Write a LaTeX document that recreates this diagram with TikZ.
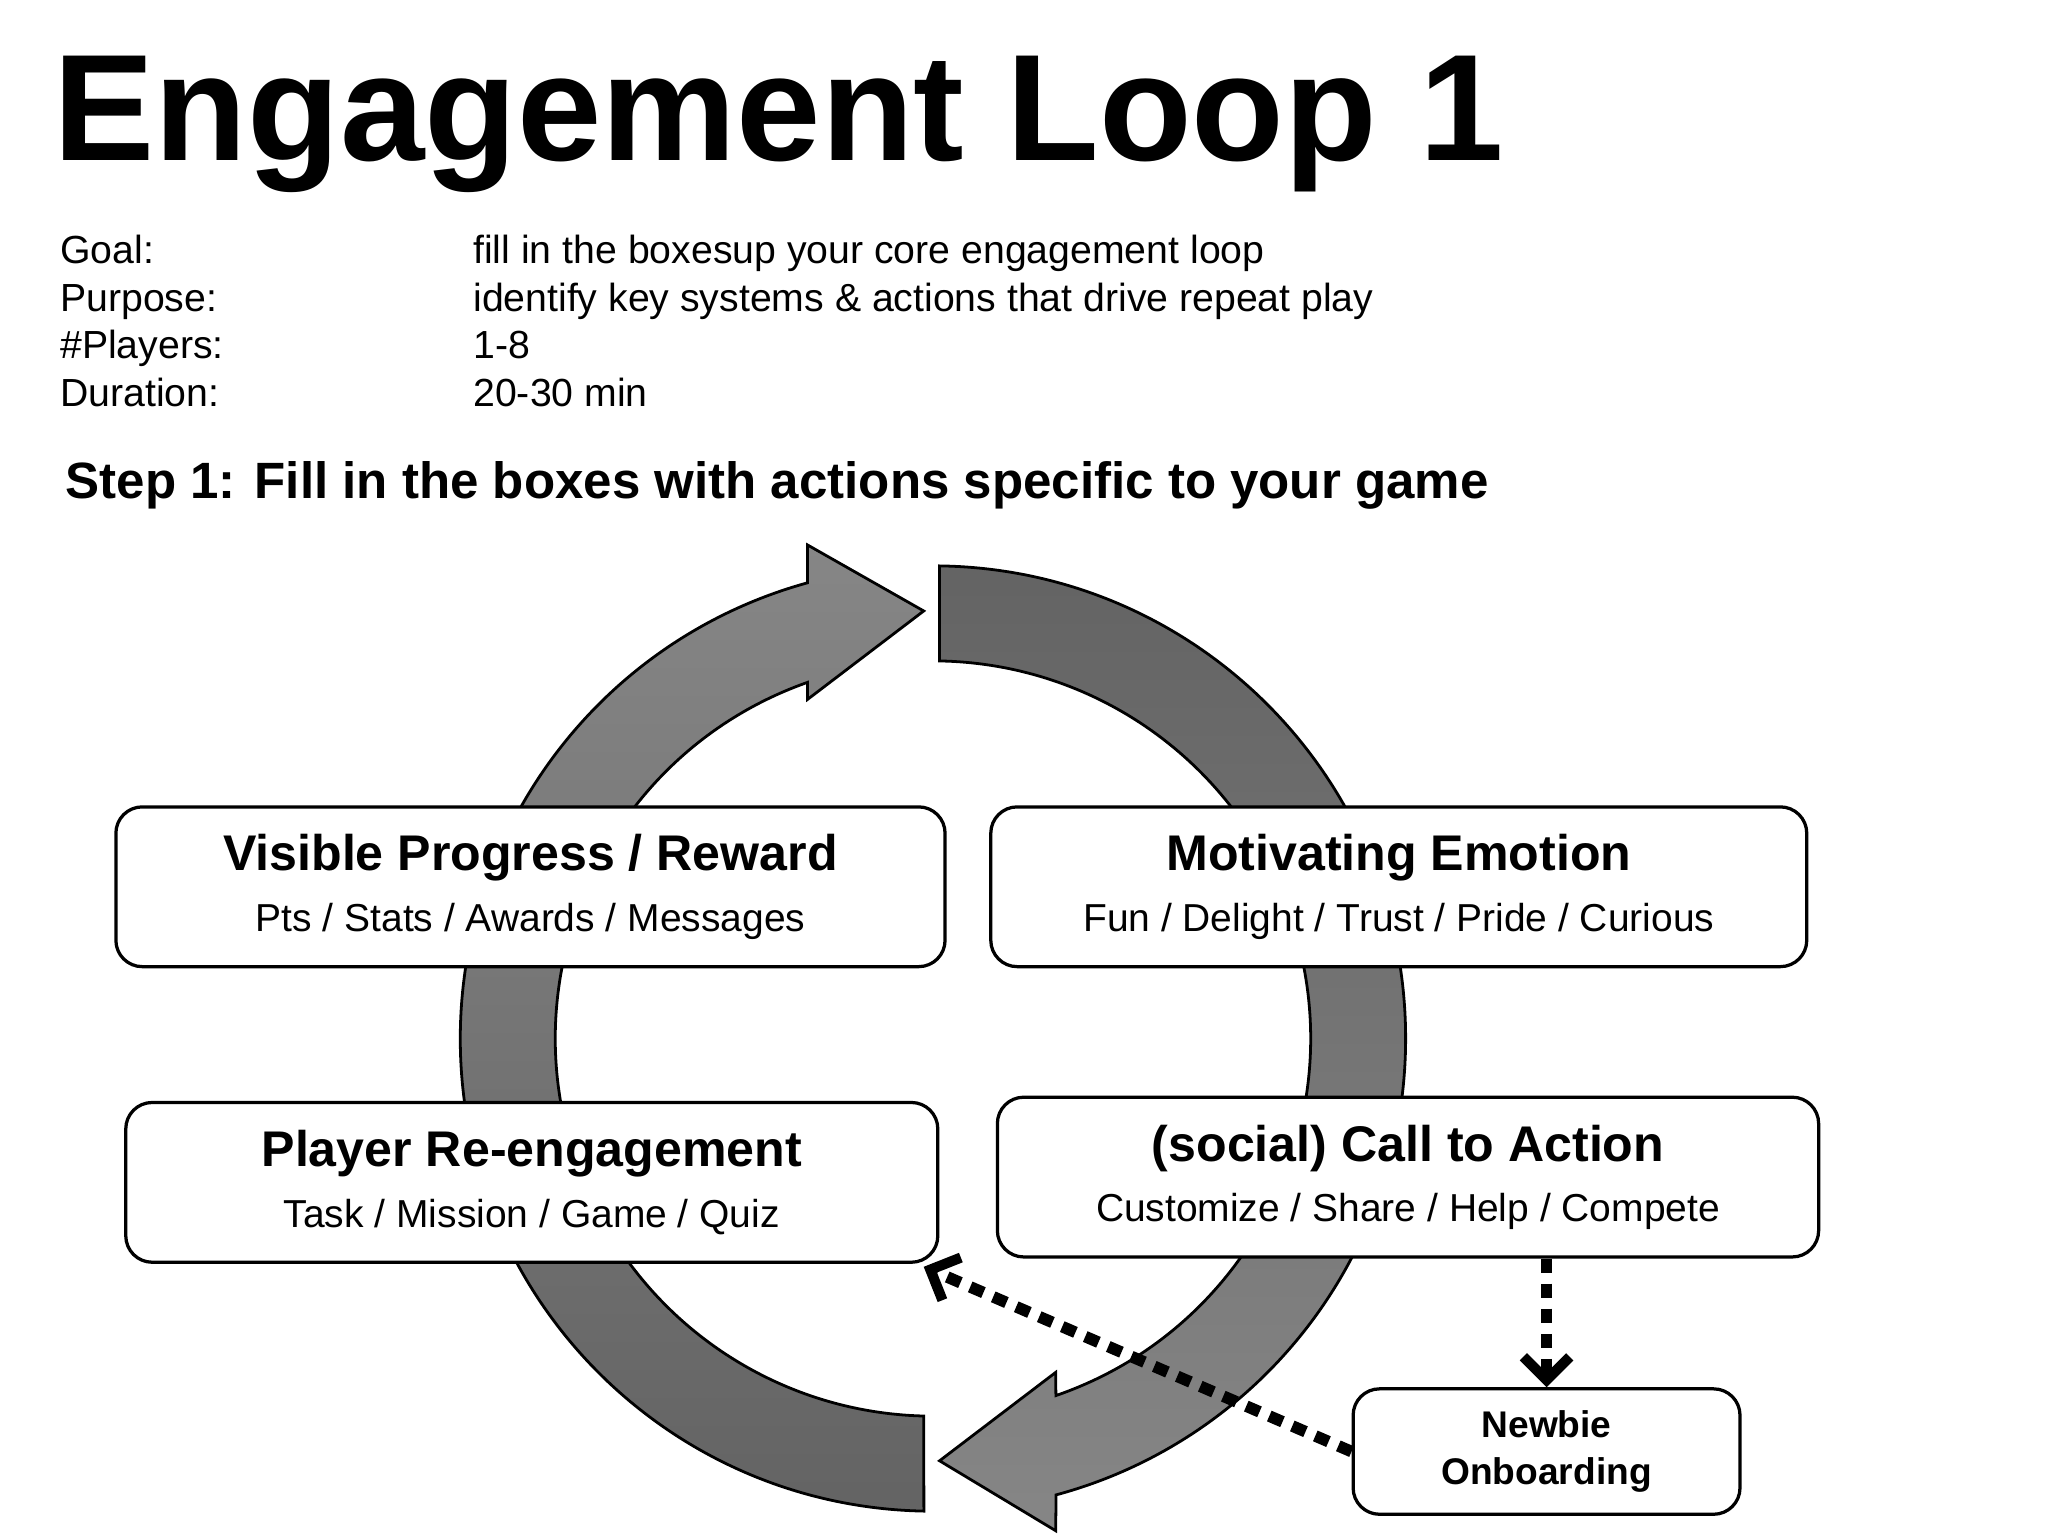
\documentclass[tikz,border=0pt]{standalone}
\usepackage{fontspec}
\setmainfont{Liberation Sans}
\usetikzlibrary{arrows.meta,calc}
\begin{document}
\begin{tikzpicture}[x=0.01cm,y=-0.01cm,
    box/.style={draw,rounded corners=0.2cm,fill=white,line width=0.7pt,align=center,inner sep=0pt},
    loop/.style={draw=black,line width=0.6pt},
    hint/.style={line width=2.5pt,dash pattern=on 3.1pt off 2.3pt,-{Straight Barb[length=5pt,width=10pt,line width=2.2pt]}},
    info/.style={anchor=base west,inner sep=0pt,font=\fontsize{8.45}{10}\selectfont}]
    \useasboundingbox (0,0) rectangle (1552,1164);
    \coordinate (c) at (707,787);
    % loop arrows
    \shade[loop,top color=gray!95,bottom color=gray!78!black]
        ($(c)+(268.9:3.58cm)$) arc[start angle=268.9,end angle=105.4,radius=3.58cm]
        -- (612,413) -- (700,463) -- (612,530)
        -- ($(c)+(109.4:2.86cm)$) arc[start angle=109.4,end angle=268.6,radius=2.86cm] -- cycle;
    \shade[loop,top color=gray!78!black,bottom color=gray!95]
        ($(c)+(89.2:3.58cm)$) arc[start angle=89.2,end angle=-74.9,radius=3.58cm]
        -- (800,1160) -- (712,1107) -- (800,1040)
        -- ($(c)+(-71:2.86cm)$) arc[start angle=-71,end angle=89,radius=2.86cm] -- cycle;

    \node[anchor=base west,inner sep=0pt,font=\fontsize{32.7}{36}\selectfont\bfseries] (title) at (40,122) {Engagement Loop 1};
    \node[info] (goal) at (45,200) {Goal:};
    \node[info] (purpose) at (45,236) {Purpose:};
    \node[info] (players) at (45,272) {\#Players:};
    \node[info] (duration) at (45,308) {Duration:};
    \node[info] (goalv) at (358,200) {fill in the boxesup your core engagement loop};
    \node[info] (purposev) at (358,236) {identify key systems \& actions that drive repeat play};
    \node[info] (playersv) at (358,272) {1-8};
    \node[info] (durationv) at (358,308) {20-30 min};
    \node[anchor=base west,inner sep=0pt,font=\fontsize{11}{13}\selectfont\bfseries] (step) at (49,378) {Step 1: Fill in the boxes with actions specific to your game};

    \node[box,minimum width=6.28cm,minimum height=1.21cm,font=\fontsize{8.4}{11}\selectfont] (vpr) at (402,672)
        {{\fontsize{10.8}{13}\selectfont\bfseries Visible Progress / Reward}\\[2pt]Pts / Stats / Awards / Messages};
    \node[box,minimum width=6.18cm,minimum height=1.21cm,font=\fontsize{8.4}{11}\selectfont] (me) at (1060,672)
        {{\fontsize{10.8}{13}\selectfont\bfseries Motivating Emotion}\\[2pt]Fun / Delight / Trust / Pride / Curious};
    \node[box,minimum width=6.15cm,minimum height=1.21cm,font=\fontsize{8.4}{11}\selectfont] (pr) at (403,896)
        {{\fontsize{10.8}{13}\selectfont\bfseries Player Re-engagement}\\[2pt]Task / Mission / Game / Quiz};
    \node[box,minimum width=6.22cm,minimum height=1.21cm,font=\fontsize{8.4}{11}\selectfont] (cta) at (1067,892)
        {{\fontsize{10.8}{13}\selectfont\bfseries (social) Call to Action}\\[2pt]Customize / Share / Help / Compete};
    \node[box,minimum width=2.93cm,minimum height=0.95cm,font=\fontsize{8}{10.3}\selectfont\bfseries] (newbie) at (1172,1100)
        {Newbie\\Onboarding};

    \coordinate (reentry) at (700,960);
    \draw[hint] (newbie.north |- cta.south) -- (newbie.north);
    \draw[hint] (newbie.west) -- (reentry);
\end{tikzpicture}
\end{document}
